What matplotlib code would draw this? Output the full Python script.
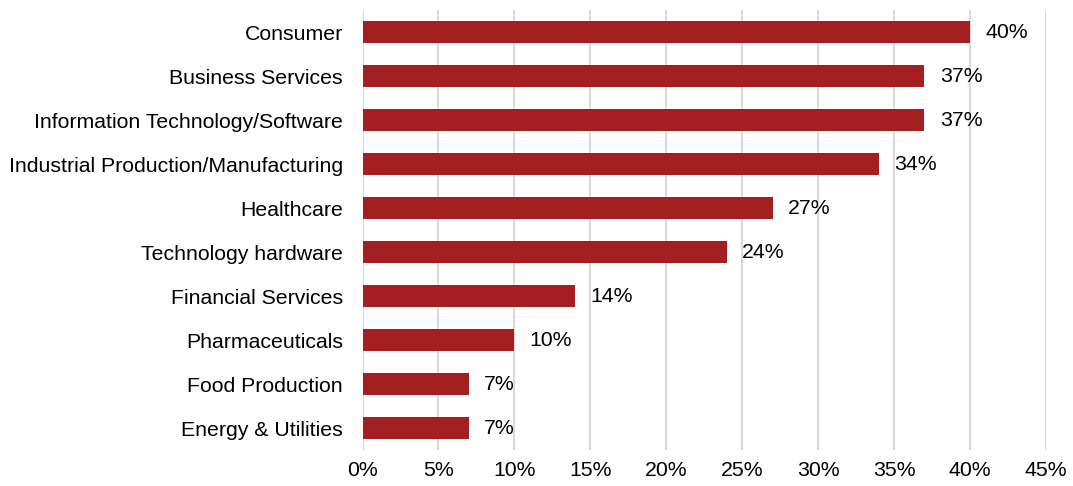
import matplotlib.pyplot as plt
from matplotlib.ticker import FuncFormatter

plt.rcParams['font.family'] = ['Liberation Sans', 'DejaVu Sans']

categories = ['Consumer', 'Business Services', 'Information Technology/Software',
              'Industrial Production/Manufacturing', 'Healthcare', 'Technology hardware',
              'Financial Services', 'Pharmaceuticals', 'Food Production', 'Energy & Utilities']
values = [40, 37, 37, 34, 27, 24, 14, 10, 7, 7]
xticks = [0, 5, 10, 15, 20, 25, 30, 35, 40, 45]

fig = plt.figure(figsize=(10.73, 4.86), dpi=100)
ax = fig.add_axes([362.5 / 1073, 36 / 486, (1046 - 362.5) / 1073, 440 / 486])

y = range(len(categories))
ax.barh(y, values, height=0.5, color='#A31F22', zorder=3)
for yi, v in zip(y, values):
    ax.text(v + 1.0, yi, '%d%%' % v, va='center', ha='left', fontsize=15.3, color='black')

ax.set_yticks(list(y))
ax.set_yticklabels(categories, fontsize=15.3)
ax.set_ylim(len(categories) - 0.5, -0.5)
ax.set_xlim(0, 45)
ax.set_xticks(xticks)
ax.xaxis.set_major_formatter(FuncFormatter(lambda v, p: '%d%%' % v))
ax.tick_params(axis='x', labelsize=15.3, length=0, pad=8)
ax.tick_params(axis='y', length=0, pad=14)
ax.grid(axis='x', color='#D9D9D9', linewidth=1.5, zorder=0)
for s in ax.spines.values():
    s.set_visible(False)

fig.savefig('out.png', dpi=100)
